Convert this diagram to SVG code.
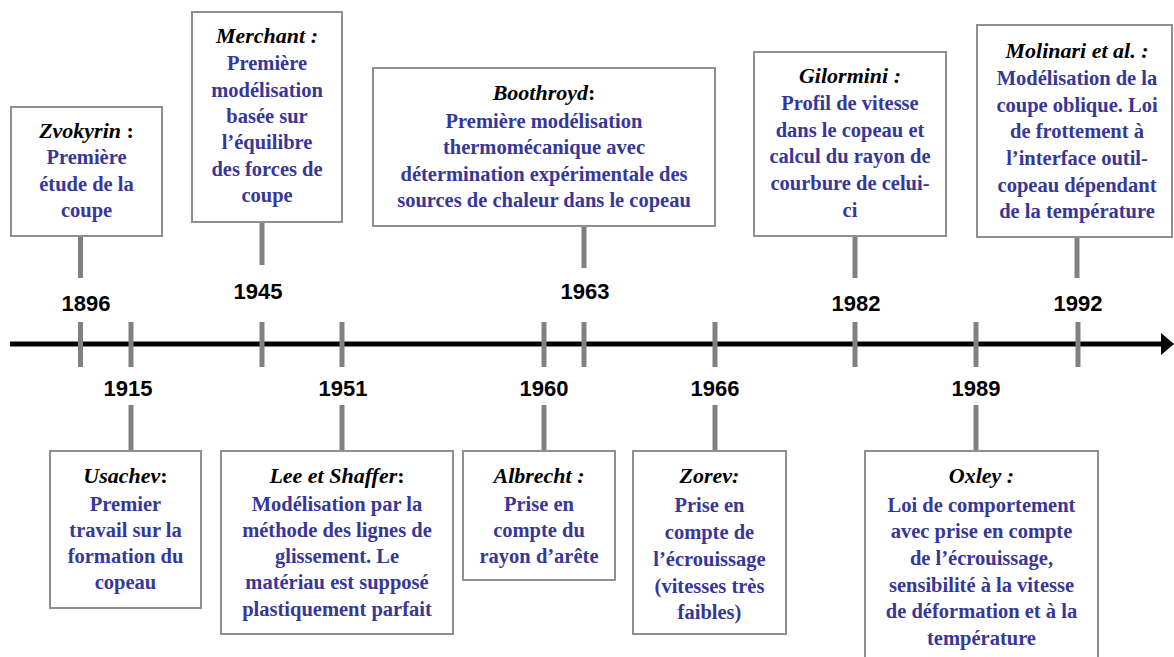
<svg xmlns="http://www.w3.org/2000/svg" width="1174" height="657" viewBox="0 0 1174 657">
<style>
.box{fill:#fff;stroke:#8f8f8f;stroke-width:2}
.t{font-family:"Liberation Serif","Times New Roman",serif;font-weight:bold;font-style:italic;font-size:22px;fill:#000;text-anchor:middle}
.t .u{font-style:normal}
.b{font-family:"Liberation Serif","Times New Roman",serif;font-weight:bold;font-size:20.5px;fill:#37379a;text-anchor:middle}
.yr{font-family:"Liberation Sans",Arial,sans-serif;font-weight:bold;font-size:22px;fill:#000;text-anchor:middle}
.tk{stroke:#808080;stroke-width:5;fill:none}
.ax{stroke:#000;stroke-width:5;fill:none}
</style>
<rect width="1174" height="657" fill="#fff"/>
<g id="connectors">
<line class="ax" x1="10" y1="344" x2="1163" y2="344"/>
<polygon points="1161,333 1174,344 1161,355" fill="#000"/>
<g class="tk">
<line x1="80.5" y1="322" x2="80.5" y2="367"/>
<line x1="131" y1="322" x2="131" y2="367"/>
<line x1="262" y1="322" x2="262" y2="367"/>
<line x1="342" y1="322" x2="342" y2="367"/>
<line x1="544" y1="322" x2="544" y2="367"/>
<line x1="584" y1="322" x2="584" y2="367"/>
<line x1="715" y1="322" x2="715" y2="367"/>
<line x1="855" y1="322" x2="855" y2="367"/>
<line x1="976" y1="322" x2="976" y2="367"/>
<line x1="1078" y1="322" x2="1078" y2="367"/>
<line x1="80.5" y1="236" x2="80.5" y2="278"/>
<line x1="262" y1="222" x2="262" y2="265"/>
<line x1="584" y1="226" x2="584" y2="268"/>
<line x1="855" y1="236" x2="855" y2="278"/>
<line x1="1077" y1="237" x2="1077" y2="278"/>
<line x1="131" y1="405" x2="131" y2="451"/>
<line x1="342" y1="405" x2="342" y2="451"/>
<line x1="544" y1="405" x2="544" y2="451"/>
<line x1="715" y1="405" x2="715" y2="451"/>
<line x1="976" y1="405" x2="976" y2="451"/>
</g>
</g>
<g id="zvokyrin">
<rect class="box" x="11" y="107" width="151" height="129"/>
<text class="t" x="86.5" y="138">Zvokyrin<tspan class="u"> :</tspan></text>
<text class="b" x="86.5" y="164">Première</text>
<text class="b" x="86.5" y="191">étude de la</text>
<text class="b" x="86.5" y="217">coupe</text>
<text class="yr" x="86" y="311">1896</text>
</g>
<g id="merchant">
<rect class="box" x="192" y="12" width="150" height="210"/>
<text class="t" x="267" y="43">Merchant :</text>
<text class="b" x="267" y="70">Première</text>
<text class="b" x="267" y="97">modélisation</text>
<text class="b" x="267" y="123">basée sur</text>
<text class="b" x="267" y="149">l’équilibre</text>
<text class="b" x="267" y="176">des forces de</text>
<text class="b" x="267" y="202">coupe</text>
<text class="yr" x="258" y="299">1945</text>
</g>
<g id="boothroyd">
<rect class="box" x="373" y="68" width="342" height="158"/>
<text class="t" x="544" y="100">Boothroyd<tspan class="u">:</tspan></text>
<text class="b" x="544" y="128">Première modélisation</text>
<text class="b" x="544" y="154">thermomécanique avec</text>
<text class="b" x="544" y="181">détermination expérimentale des</text>
<text class="b" x="544" y="207">sources de chaleur dans le copeau</text>
<text class="yr" x="585" y="299">1963</text>
</g>
<g id="gilormini">
<rect class="box" x="754" y="52" width="192" height="184"/>
<text class="t" x="850" y="83">Gilormini :</text>
<text class="b" x="850" y="110">Profil de vitesse</text>
<text class="b" x="850" y="137">dans le copeau et</text>
<text class="b" x="850" y="163">calcul du rayon de</text>
<text class="b" x="850" y="190">courbure de celui-</text>
<text class="b" x="850" y="217">ci</text>
<text class="yr" x="856" y="311">1982</text>
</g>
<g id="molinari">
<rect class="box" x="977" y="25" width="195" height="212"/>
<text class="t" x="1077" y="58">Molinari et al. :</text>
<text class="b" x="1077" y="85">Modélisation de la</text>
<text class="b" x="1077" y="112">coupe oblique. Loi</text>
<text class="b" x="1077" y="138">de frottement à</text>
<text class="b" x="1077" y="165">l’interface outil-</text>
<text class="b" x="1077" y="192">copeau dépendant</text>
<text class="b" x="1077" y="218">de la température</text>
<text class="yr" x="1078" y="311">1992</text>
</g>
<g id="usachev">
<rect class="box" x="50" y="451" width="151" height="157"/>
<text class="t" x="125.5" y="483">Usachev<tspan class="u">:</tspan></text>
<text class="b" x="125.5" y="511">Premier</text>
<text class="b" x="125.5" y="537">travail sur la</text>
<text class="b" x="125.5" y="563">formation du</text>
<text class="b" x="125.5" y="589">copeau</text>
<text class="yr" x="128" y="396">1915</text>
</g>
<g id="lee-shaffer">
<rect class="box" x="221" y="451" width="232" height="183"/>
<text class="t" x="337" y="483">Lee et Shaffer<tspan class="u">:</tspan></text>
<text class="b" x="337" y="511">Modélisation par la</text>
<text class="b" x="337" y="537">méthode des lignes de</text>
<text class="b" x="337" y="563">glissement. Le</text>
<text class="b" x="337" y="589">matériau est supposé</text>
<text class="b" x="337" y="616">plastiquement parfait</text>
<text class="yr" x="343" y="396">1951</text>
</g>
<g id="albrecht">
<rect class="box" x="463" y="451" width="152" height="129"/>
<text class="t" x="539" y="483">Albrecht :</text>
<text class="b" x="539" y="511">Prise en</text>
<text class="b" x="539" y="537">compte du</text>
<text class="b" x="539" y="563">rayon d’arête</text>
<text class="yr" x="544" y="396">1960</text>
</g>
<g id="zorev">
<rect class="box" x="633" y="451" width="153" height="183"/>
<text class="t" x="709.5" y="483">Zorev:</text>
<text class="b" x="709.5" y="512">Prise en</text>
<text class="b" x="709.5" y="539">compte de</text>
<text class="b" x="709.5" y="566">l’écrouissage</text>
<text class="b" x="709.5" y="593">(vitesses très</text>
<text class="b" x="709.5" y="619">faibles)</text>
<text class="yr" x="715" y="396">1966</text>
</g>
<g id="oxley">
<rect class="box" x="865" y="451" width="233" height="220"/>
<text class="t" x="981.5" y="483">Oxley :</text>
<text class="b" x="981.5" y="512">Loi de comportement</text>
<text class="b" x="981.5" y="538">avec prise en compte</text>
<text class="b" x="981.5" y="565">de l’écrouissage,</text>
<text class="b" x="981.5" y="592">sensibilité à la vitesse</text>
<text class="b" x="981.5" y="618">de déformation et à la</text>
<text class="b" x="981.5" y="645">température</text>
<text class="yr" x="976" y="396">1989</text>
</g>
</svg>
